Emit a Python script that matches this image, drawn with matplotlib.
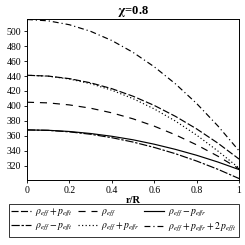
import matplotlib
matplotlib.use("Agg")
import matplotlib.pyplot as plt

# ---- values (chi = 0.8) --------------------------------------------------
r = [0.0, 0.1, 0.2, 0.3, 0.4, 0.5, 0.6, 0.7, 0.8, 0.9, 1.0]

rho_plus_pt = [441, 439.9, 436.5, 430.9, 423.1, 413.0, 400.7, 386.1, 369.3, 350.3, 329]
rho_minus_pt = [368, 367.4, 365.4, 362.2, 357.6, 351.8, 344.6, 336.2, 326.4, 315.4, 303]
rho = [405, 404.1, 401.4, 397.0, 390.8, 382.8, 373.0, 361.4, 348.0, 332.9, 316]
rho_plus_pr = [441, 439.8, 436.0, 429.8, 421.0, 409.8, 396.0, 379.8, 361.0, 339.8, 317]
rho_minus_pr = [368, 367.5, 365.9, 363.2, 359.5, 354.8, 348.9, 342.0, 334.1, 325.1, 315]
rho_pr_2pt = [515.5, 513.7, 508.5, 499.7, 487.4, 471.6, 452.3, 429.5, 403.2, 373.3, 340]

xticks = [0, 0.2, 0.4, 0.6, 0.8, 1]
xticklabels = ["0", "0.2", "0.4", "0.6", "0.8", "1"]
yticks = [320, 340, 360, 380, 400, 420, 440, 460, 480, 500]

plt.rcParams["font.family"] = ["Liberation Serif", "DejaVu Serif"]
plt.rcParams["mathtext.fontset"] = "stix"

fig = plt.figure(figsize=(2.45, 2.45), dpi=100)
ax = fig.add_axes([0.110, 0.265, 0.866, 0.657])

lw = 0.85
h1, = ax.plot(r, rho_plus_pt, color="black", lw=lw, dashes=(6, 2),
              label=r"$\rho_{eff}+p_{efft}$")
h4, = ax.plot(r, rho_minus_pt, color="black", lw=lw, dashes=(7, 1.5, 2, 1.5),
              label=r"$\rho_{eff}-p_{efft}$")
h2, = ax.plot(r, rho, color="black", lw=lw, dashes=(6, 5),
              label=r"$\rho_{eff}$")
h5, = ax.plot(r, rho_plus_pr, color="black", lw=lw, dashes=(1, 2),
              label=r"$\rho_{eff}+p_{effr}$")
h3, = ax.plot(r, rho_minus_pr, color="black", lw=lw,
              label=r"$\rho_{eff}-p_{effr}$")
h6, = ax.plot(r, rho_pr_2pt, color="black", lw=lw, dashes=(5, 2.5, 1, 2.5),
              label=r"$\rho_{eff}+p_{effr}+2\,p_{efft}$")

ax.set_xlim(0, 1)
ax.set_ylim(301, 516)
ax.set_xticks(xticks)
ax.set_xticklabels(xticklabels)
ax.set_yticks(yticks)
ax.tick_params(labelsize=7, length=2, width=0.6, direction="out", pad=2)
for s in ax.spines.values():
    s.set_linewidth(0.7)

ax.set_title(r"$\mathbf{\chi}$=0.8", fontsize=9, fontweight="bold", pad=2)
ax.set_xlabel("r/R", fontsize=7.5, fontweight="bold", labelpad=1)

leg = fig.legend(handles=[h1, h4, h2, h5, h3, h6], ncol=3,
                 loc="lower center", bbox_to_anchor=(0.505, 0.012),
                 fontsize=7, frameon=True, fancybox=False,
                 edgecolor="black", handlelength=2.0, handletextpad=0.4,
                 columnspacing=0.5, borderpad=0.3, labelspacing=0.25)
leg.get_frame().set_linewidth(0.7)

fig.savefig("out.png", dpi=100)
